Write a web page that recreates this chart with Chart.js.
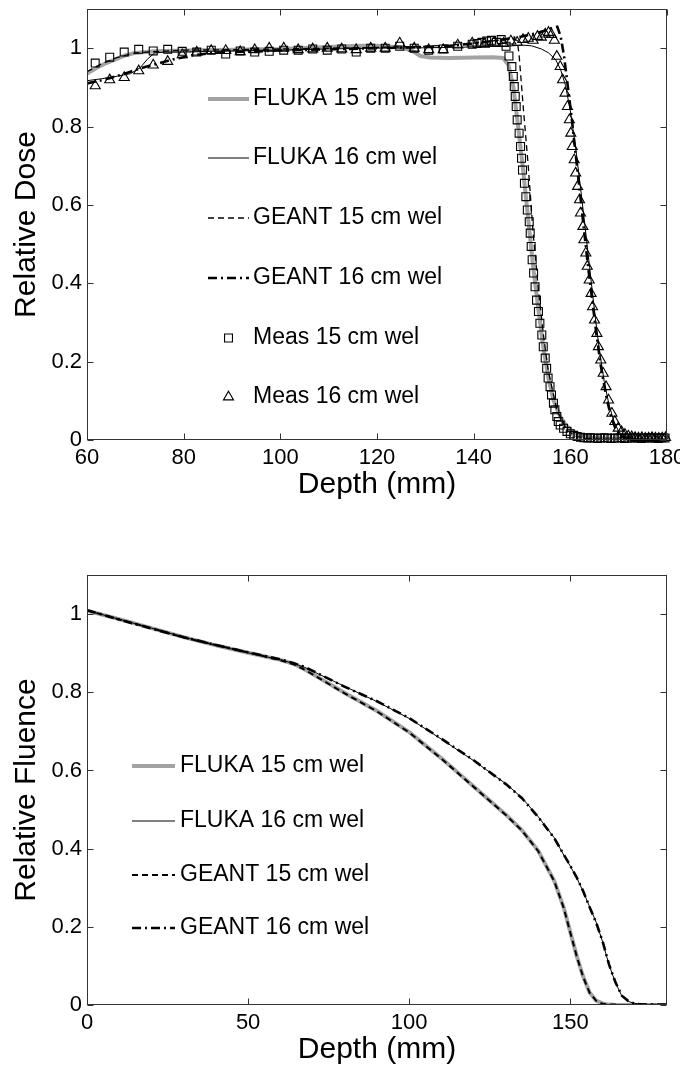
<!DOCTYPE html>
<html>
<head>
<meta charset="utf-8">
<script src="https://cdn.jsdelivr.net/npm/chart.js@4.4.1/dist/chart.umd.min.js"></script>
<style>
  html, body { margin: 0; padding: 0; background: #fff; }
  canvas { display: block; }
</style>
</head>
<body>
<canvas id="doseChart" width="680" height="540"></canvas>
<canvas id="fluenceChart" width="680" height="534"></canvas>
<script>
// ---- Dosis relativa (grafica de arriba) ----
const doseXTicks = [60, 80, 100, 120, 140, 160, 180];
const yTicks = [0, 0.2, 0.4, 0.6, 0.8, 1];
const yTickLabels = ["0", "0.2", "0.4", "0.6", "0.8", "1"];

const flukaLabels = ["FLUKA 15 cm wel", "FLUKA 16 cm wel", "GEANT 15 cm wel", "GEANT 16 cm wel"];
const measLabels = ["Meas 15 cm wel", "Meas 16 cm wel"];

const doseF15x = [60, 62, 64, 66, 68, 70, 74, 80, 90, 100, 110, 116, 120, 124, 127, 129, 131, 135, 140, 144, 146.1, 147.2, 148.2, 149.2, 150.3, 151.3, 152.3, 153.4, 154.4, 155.4, 156.5, 157.9, 159.3, 160.6, 162, 164, 167, 172, 180];
const doseF15y = [0.935, 0.950, 0.962, 0.972, 0.982, 0.988, 0.992, 0.994, 0.996, 0.998, 1.003, 1.006, 1.006, 1.003, 0.995, 0.980, 0.976, 0.975, 0.976, 0.977, 0.975, 0.957, 0.902, 0.800, 0.681, 0.562, 0.443, 0.332, 0.238, 0.162, 0.102, 0.060, 0.034, 0.021, 0.013, 0.006, 0.003, 0.001, 0.000];

const doseF16x = [60, 63, 66, 69, 71, 72.5, 74, 76, 80, 85, 90, 100, 110, 120, 130, 140, 145, 148, 150, 152, 154, 155.5, 157, 158, 159, 160, 161, 162, 163, 164, 165, 166, 167, 168, 169, 170, 171, 173, 176, 180];
const doseF16y = [0.917, 0.922, 0.928, 0.935, 0.950, 0.972, 0.988, 0.990, 0.990, 0.992, 0.993, 0.995, 0.998, 1.000, 1.001, 1.003, 1.005, 1.006, 1.008, 1.006, 0.998, 0.988, 0.970, 0.945, 0.905, 0.840, 0.755, 0.655, 0.550, 0.440, 0.330, 0.230, 0.150, 0.090, 0.048, 0.022, 0.010, 0.003, 0.001, 0.000];

const doseG15x = [60, 63, 66, 70, 75, 80, 90, 100, 110, 120, 130, 135, 140, 145, 148, 149, 149.4, 150.3, 151.3, 152.3, 153.4, 154.4, 155.4, 157.2, 159.3, 161, 163, 167, 172, 180];
const doseG15y = [0.940, 0.960, 0.975, 0.988, 0.992, 0.995, 0.996, 0.998, 1.000, 1.002, 1.005, 1.008, 1.013, 1.020, 1.025, 1.020, 0.983, 0.843, 0.698, 0.528, 0.383, 0.272, 0.179, 0.076, 0.025, 0.010, 0.004, 0.002, 0.001, 0.000];

const doseG16x = [60, 63, 66, 69, 72, 75, 78, 82, 86, 90, 100, 110, 120, 130, 135, 140, 145, 150, 153, 155, 156.5, 157.3, 158, 158.7, 159.5, 160.3, 161.1, 162, 162.8, 163.6, 164.5, 165.4, 166.3, 167.3, 168.3, 169.3, 170.5, 172, 175, 180];
const doseG16y = [0.910, 0.918, 0.928, 0.940, 0.952, 0.962, 0.972, 0.982, 0.988, 0.990, 0.994, 0.997, 1.000, 1.003, 1.006, 1.012, 1.020, 1.030, 1.038, 1.046, 1.053, 1.055, 1.030, 0.980, 0.900, 0.820, 0.730, 0.630, 0.540, 0.450, 0.360, 0.270, 0.190, 0.120, 0.065, 0.030, 0.010, 0.003, 0.001, 0.000];

const meas15x = [61.7, 64.7, 67.7, 70.7, 73.7, 76.7, 79.7, 82.7, 85.7, 88.7, 91.7, 94.7, 97.7, 100.7, 103.7, 106.7, 109.7, 112.7, 115.7, 118.7, 121.7, 124.7, 127.7, 130.7, 133.7, 136.7, 139.7, 140.7, 141.7, 142.7, 143.7, 144.7, 145.7, 146.7, 147.3,
  147.9, 148.2, 148.4, 148.6, 148.8, 149.0, 149.4, 149.7, 149.9, 150.1, 150.5, 150.8, 151.1, 151.5, 151.7, 151.9, 152.1, 152.4, 152.7, 153.0, 153.4, 153.7, 154.1, 154.4, 154.8, 155.1, 155.4, 155.8, 156.1, 156.5, 156.8, 157.2, 157.5, 157.9, 158.6, 159.3, 160.0, 160.7, 161.4, 162.1,
  162.8, 163.5, 164.2, 164.9, 165.6, 166.3, 167.0, 167.7, 168.4, 169.1, 169.8, 170.5, 171.2, 171.9, 172.6, 173.3, 174.0, 174.7, 175.4, 176.1, 176.8, 177.5, 178.2, 178.9, 179.6];
const meas15y = [0.962, 0.977, 0.990, 0.997, 0.993, 0.997, 0.992, 0.990, 0.995, 0.985, 0.993, 0.990, 0.992, 0.995, 0.995, 0.998, 0.995, 0.998, 0.990, 1.000, 1.000, 1.005, 1.000, 0.995, 0.998, 1.005, 1.010, 1.012, 1.015, 1.018, 1.020, 1.015, 1.022, 1.005, 0.980,
  0.953, 0.928, 0.902, 0.877, 0.851, 0.817, 0.783, 0.749, 0.719, 0.689, 0.655, 0.621, 0.587, 0.557, 0.528, 0.494, 0.460, 0.426, 0.391, 0.357, 0.328, 0.298, 0.268, 0.238, 0.209, 0.183, 0.158, 0.136, 0.115, 0.094, 0.077, 0.060, 0.047, 0.038, 0.030, 0.022, 0.016, 0.012, 0.009, 0.007,
  0.006, 0.005, 0.006, 0.005, 0.004, 0.005, 0.006, 0.005, 0.004, 0.005, 0.005, 0.006, 0.004, 0.005, 0.005, 0.006, 0.005, 0.004, 0.005, 0.006, 0.005, 0.005, 0.004, 0.006, 0.005];

const meas16x = [61.7, 64.7, 67.7, 70.7, 73.7, 76.7, 79.7, 82.7, 85.7, 88.7, 91.7, 94.7, 97.7, 100.7, 103.7, 106.7, 109.7, 112.7, 115.7, 118.7, 121.7, 124.7, 127.7, 130.7, 133.7, 136.7, 139.7, 142.2, 144.2, 146.2, 147.7, 149.0, 150.2, 151.3, 152.3, 153.2, 154.0, 154.8, 155.5, 156.1, 156.7,
  157.2, 157.9, 158.4, 158.9, 159.4, 159.8, 160.1, 160.4, 160.8, 161.1, 161.5, 161.9, 162.1, 162.6, 162.8, 163.2, 163.5, 163.9, 164.3, 164.6, 165.0, 165.5, 165.8, 166.3, 166.8, 167.4, 167.9, 168.6, 169.2, 169.9, 170.6, 171.3, 172.0, 172.7, 173.4,
  174.1, 174.8, 175.5, 176.2, 176.9, 177.6, 178.3, 179.0, 179.7];
const meas16y = [0.904, 0.919, 0.925, 0.942, 0.957, 0.966, 0.983, 0.990, 0.994, 0.994, 0.991, 0.996, 1.000, 1.000, 0.996, 0.998, 1.000, 0.998, 0.996, 1.000, 1.000, 1.013, 1.000, 0.996, 0.996, 1.008, 1.013, 1.010, 1.015, 1.012, 1.018, 1.015, 1.022, 1.025, 1.020, 1.030, 1.028, 1.036, 1.040, 1.035, 1.020,
  0.979, 0.953, 0.919, 0.885, 0.851, 0.817, 0.783, 0.749, 0.715, 0.681, 0.647, 0.613, 0.579, 0.545, 0.511, 0.477, 0.443, 0.408, 0.374, 0.340, 0.306, 0.272, 0.238, 0.204, 0.170, 0.136, 0.102, 0.068, 0.047, 0.030, 0.021, 0.014, 0.010, 0.008, 0.006,
  0.005, 0.006, 0.004, 0.005, 0.006, 0.005, 0.004, 0.005, 0.006];

// ---- Fluencia relativa (grafica de abajo) ----
const fluXTicks = [0, 50, 100, 150];
const fluDepth = [0, 10, 20, 30, 40, 50, 60, 64, 67.5, 71, 80, 90, 100, 110, 120, 130, 135, 140, 145, 148, 150, 152, 154, 156, 158, 160, 162, 164, 166, 168, 170, 172, 175, 180];
const fluF15 = [1.009, 0.987, 0.964, 0.941, 0.920, 0.901, 0.883, 0.873, 0.859, 0.842, 0.798, 0.752, 0.698, 0.631, 0.559, 0.487, 0.447, 0.395, 0.318, 0.248, 0.186, 0.125, 0.072, 0.032, 0.011, 0.004, 0.001, 0, 0, 0, 0, 0, 0, 0];
const fluF16 = [1.009, 0.987, 0.964, 0.941, 0.920, 0.901, 0.883, 0.874, 0.864, 0.850, 0.815, 0.776, 0.733, 0.680, 0.625, 0.566, 0.530, 0.482, 0.428, 0.383, 0.355, 0.325, 0.290, 0.251, 0.212, 0.162, 0.103, 0.057, 0.023, 0.009, 0.004, 0.002, 0.001, 0];
const fluG15 = [1.010, 0.986, 0.964, 0.940, 0.921, 0.902, 0.882, 0.872, 0.858, 0.841, 0.797, 0.751, 0.697, 0.630, 0.558, 0.486, 0.446, 0.394, 0.317, 0.247, 0.185, 0.124, 0.071, 0.031, 0.011, 0.003, 0.001, 0.001, 0, 0, 0, 0, 0.001, 0];
const fluG16 = [1.010, 0.986, 0.963, 0.941, 0.921, 0.902, 0.884, 0.875, 0.865, 0.851, 0.814, 0.777, 0.734, 0.681, 0.626, 0.565, 0.529, 0.481, 0.427, 0.384, 0.356, 0.326, 0.291, 0.250, 0.211, 0.163, 0.104, 0.058, 0.024, 0.010, 0.003, 0.002, 0.001, 0.001];

Chart.defaults.font.family = "'Liberation Sans', Arial, sans-serif";
Chart.defaults.color = "#000";

const fuenteTicks = { size: 22 };
const fuenteTitulo = { size: 30, lineHeight: 1 };
const fuenteLeyenda = "23px 'Liberation Sans', Arial, sans-serif";

const estiloGris = { borderColor: "#a3a3a3", borderWidth: 4 };
const estiloNegro = { borderColor: "#000", borderWidth: 1 };
const estiloGuiones = { borderColor: "#000", borderWidth: 1.3, borderDash: [6, 4] };
const estiloGuionPunto = { borderColor: "#000", borderWidth: 2.6, borderDash: [9, 4, 2, 4] };

function puntos(xs, ys) {
  return xs.map((x, i) => ({ x: x, y: ys[i] }));
}

function linea(label, xs, ys, estilo, orden) {
  return Object.assign({
    label: label, data: puntos(xs, ys), showLine: true,
    pointRadius: 0, fill: false, tension: 0, order: orden
  }, estilo);
}

function medida(label, xs, ys, forma, orden) {
  return {
    label: label, data: puntos(xs, ys), showLine: false,
    pointStyle: forma, pointRadius: forma === "rect" ? 5.6 : 5.8,
    pointBorderColor: "#000", pointBackgroundColor: "rgba(255,255,255,0)",
    pointBorderWidth: 1.1, clip: false, order: orden
  };
}

// caja con marcas hacia adentro, estilo MATLAB
const cajaMatlab = {
  id: "cajaMatlab",
  afterDatasetsDraw(chart) {
    const { ctx, chartArea: a, scales } = chart;
    const L = Math.round(a.left) + 0.5, R = Math.round(a.right) - 0.5;
    const T = Math.round(a.top) + 0.5, B = Math.round(a.bottom) - 0.5;
    const len = 6;
    ctx.save();
    ctx.strokeStyle = "#333";
    ctx.lineWidth = 1;
    ctx.strokeRect(L, T, R - L, B - T);
    ctx.beginPath();
    scales.x.ticks.forEach(t => {
      const px = Math.round(scales.x.getPixelForValue(t.value)) + 0.5;
      ctx.moveTo(px, B); ctx.lineTo(px, B - len);
      ctx.moveTo(px, T); ctx.lineTo(px, T + len);
    });
    scales.y.ticks.forEach(t => {
      const py = Math.round(scales.y.getPixelForValue(t.value)) + 0.5;
      ctx.moveTo(L, py); ctx.lineTo(L + len, py);
      ctx.moveTo(R, py); ctx.lineTo(R - len, py);
    });
    ctx.stroke();
    ctx.restore();
  }
};

function marcador(ctx, forma, x, y, r, lw) {
  ctx.beginPath();
  if (forma === "rect") {
    const s = Math.SQRT1_2 * r;
    ctx.rect(x - s, y - s, 2 * s, 2 * s);
  } else {
    ctx.moveTo(x, y - r);
    ctx.lineTo(x + r * Math.sin(2 * Math.PI / 3), y - r * Math.cos(2 * Math.PI / 3));
    ctx.lineTo(x + r * Math.sin(4 * Math.PI / 3), y - r * Math.cos(4 * Math.PI / 3));
    ctx.closePath();
  }
  ctx.lineWidth = lw;
  ctx.strokeStyle = "#000";
  ctx.stroke();
}

// leyenda sin recuadro dentro del area
const leyendaMatlab = {
  id: "leyendaMatlab",
  afterDraw(chart, args, o) {
    const ctx = chart.ctx;
    ctx.save();
    chart.data.datasets.forEach((ds, i) => {
      const y = o.filas[i];
      if (ds.showLine) {
        ctx.beginPath();
        ctx.strokeStyle = ds.borderColor;
        ctx.lineWidth = ds.borderWidth;
        ctx.setLineDash(ds.borderDash || []);
        ctx.moveTo(o.lineaX[0], y);
        ctx.lineTo(o.lineaX[1], y);
        ctx.stroke();
        ctx.setLineDash([]);
      } else {
        marcador(ctx, ds.pointStyle, (o.lineaX[0] + o.lineaX[1]) / 2, y, ds.pointRadius, ds.pointBorderWidth);
      }
      ctx.fillStyle = "#000";
      ctx.font = fuenteLeyenda;
      ctx.textAlign = "left";
      ctx.textBaseline = "middle";
      ctx.fillText(ds.label, o.textoX, y);
    });
    ctx.restore();
  }
};

function ejes(xMin, xMax, xTicks, yTitulo, alturaX, pbTitulo) {
  return {
    x: {
      type: "linear", min: xMin, max: xMax,
      afterBuildTicks: s => { s.ticks = xTicks.map(v => ({ value: v })); },
      afterFit: s => { s.height = alturaX; s.paddingLeft = 0; s.paddingRight = 0; },
      grid: { display: false, drawTicks: false },
      border: { display: false },
      ticks: { padding: 5, font: fuenteTicks, color: "#000", autoSkip: false, maxRotation: 0, callback: v => String(v) },
      title: { display: true, text: "Depth (mm)", font: fuenteTitulo, color: "#000", padding: { top: 0, bottom: pbTitulo } }
    },
    y: {
      type: "linear", min: 0, max: 1.1,
      afterBuildTicks: s => { s.ticks = yTicks.map(v => ({ value: v })); },
      afterFit: s => { s.width = 87; s.paddingTop = 0; s.paddingBottom = 0; },
      grid: { display: false, drawTicks: false },
      border: { display: false },
      ticks: { padding: 5, font: fuenteTicks, color: "#000", autoSkip: false, callback: (v, i) => yTickLabels[i] },
      title: { display: true, text: yTitulo, font: fuenteTitulo, color: "#000", padding: { top: 12, bottom: 0 } }
    }
  };
}

new Chart(document.getElementById("doseChart"), {
  type: "scatter",
  data: {
    datasets: [
      linea(flukaLabels[0], doseF15x, doseF15y, estiloGris, 6),
      linea(flukaLabels[1], doseF16x, doseF16y, estiloNegro, 5),
      linea(flukaLabels[2], doseG15x, doseG15y, estiloGuiones, 4),
      linea(flukaLabels[3], doseG16x, doseG16y, estiloGuionPunto, 3),
      medida(measLabels[0], meas15x, meas15y, "rect", 2),
      medida(measLabels[1], meas16x, meas16y, "triangle", 1)
    ]
  },
  options: {
    responsive: false, animation: false, events: [],
    layout: { padding: { top: 9, right: 13, left: 0, bottom: 0 } },
    scales: ejes(60, 180, doseXTicks, "Relative Dose", 100, 40),
    plugins: {
      legend: { display: false }, tooltip: { enabled: false },
      leyendaMatlab: { lineaX: [208, 249], textoX: 253, filas: [99, 158, 218, 278, 338, 397] }
    }
  },
  plugins: [cajaMatlab, leyendaMatlab]
});

new Chart(document.getElementById("fluenceChart"), {
  type: "scatter",
  data: {
    datasets: [
      linea(flukaLabels[0], fluDepth, fluF15, estiloGris, 4),
      linea(flukaLabels[1], fluDepth, fluF16, estiloNegro, 3),
      linea(flukaLabels[2], fluDepth, fluG15, Object.assign({}, estiloGuiones, { borderWidth: 2 }), 2),
      linea(flukaLabels[3], fluDepth, fluG16, estiloGuionPunto, 1)
    ]
  },
  options: {
    responsive: false, animation: false, events: [],
    layout: { padding: { top: 35, right: 13, left: 0, bottom: 0 } },
    scales: ejes(0, 180, fluXTicks, "Relative Fluence", 69, 9),
    plugins: {
      legend: { display: false }, tooltip: { enabled: false },
      leyendaMatlab: { lineaX: [132, 175], textoX: 180, filas: [226, 281, 335, 388] }
    }
  },
  plugins: [cajaMatlab, leyendaMatlab]
});
</script>
</body>
</html>
